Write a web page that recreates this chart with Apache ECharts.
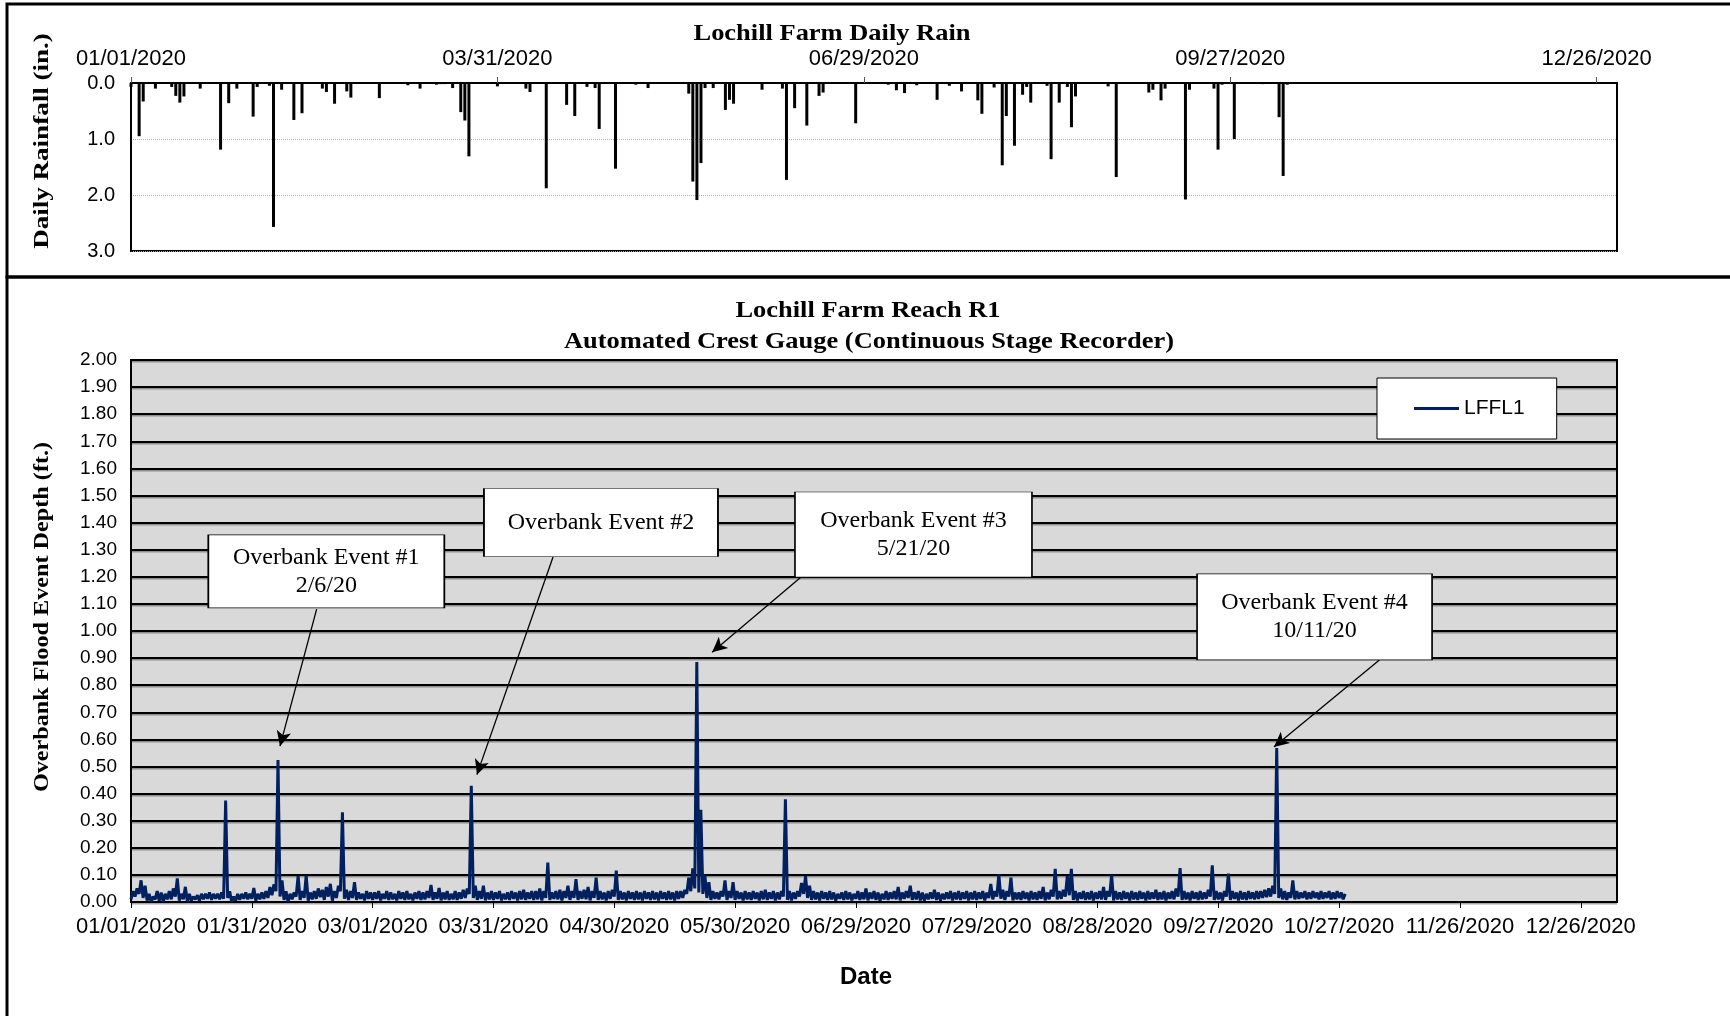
<!DOCTYPE html>
<html>
<head>
<meta charset="utf-8">
<title>Lochill Farm Reach R1</title>
<script src="https://cdn.jsdelivr.net/npm/echarts@6/dist/echarts.min.js"></script>
<style>
  html, body { margin: 0; padding: 0; background: #fff; }
  #chart { width: 1730px; height: 1016px; }
</style>
</head>
<body>
<div id="chart"></div>
<script>
// daily rain: day number counted from 01/01/2020, inches
var rainDay = [0, 2, 3, 6, 10, 11, 12, 13, 17, 22,
  24, 26, 30, 31, 34, 35, 37, 40, 42, 47,
  48, 50, 53, 54, 61, 68, 71, 75, 76, 77,
  79, 81, 82, 83, 90, 97, 98, 102, 107, 109,
  112, 114, 115, 119, 124, 127, 137, 138, 139, 140,
  141, 143, 146, 147, 148, 155, 160, 161, 163, 166,
  169, 170, 178, 186, 188, 190, 193, 198, 201, 204,
  208, 209, 212, 214, 215, 217, 219, 220, 221, 225,
  226, 228, 230, 231, 232, 240, 242, 250, 251, 253,
  254, 259, 260, 266, 267, 268, 271, 278, 282, 283,
  284];
var rainIn = [0.07, 0.95, 0.33, 0.10, 0.07, 0.23, 0.35, 0.24, 0.10, 1.19,
  0.36, 0.10, 0.60, 0.07, 0.05, 2.57, 0.12, 0.66, 0.54, 0.10,
  0.16, 0.37, 0.15, 0.26, 0.27, 0.04, 0.10, 0.03, 0.02, 0.02,
  0.09, 0.52, 0.67, 1.31, 0.06, 0.10, 0.16, 1.88, 0.39, 0.59,
  0.07, 0.09, 0.82, 1.53, 0.03, 0.09, 0.19, 1.76, 2.09, 1.43,
  0.09, 0.09, 0.48, 0.30, 0.37, 0.12, 0.10, 1.73, 0.45, 0.76,
  0.23, 0.17, 0.72, 0.03, 0.13, 0.18, 0.04, 0.30, 0.05, 0.15,
  0.31, 0.55, 0.08, 1.47, 0.59, 1.12, 0.21, 0.07, 0.35, 0.05,
  1.36, 0.35, 0.07, 0.79, 0.24, 0.06, 1.68, 0.17, 0.12, 0.31,
  0.10, 2.08, 0.12, 0.10, 1.19, 0.03, 1.00, 0.02, 0.61, 1.66,
  0.03];

// stage recorder LFFL1, one low and one high reading per day (ft), day 0 = 01/01/2020
var stageHigh = [
  0.04, 0.05, 0.08, 0.06, 0.03, 0.02, 0.04, 0.035, 0.03, 0.04,
  0.05, 0.087, 0.03, 0.056, 0.03, 0.02, 0.025, 0.03, 0.03, 0.035,
  0.03, 0.03, 0.035, 0.374, 0.04, 0.02, 0.03, 0.03, 0.035, 0.03,
  0.052, 0.03, 0.035, 0.04, 0.055, 0.065, 0.524, 0.08, 0.04, 0.03,
  0.035, 0.096, 0.04, 0.098, 0.035, 0.04, 0.05, 0.045, 0.055, 0.067,
  0.04, 0.06, 0.331, 0.045, 0.04, 0.073, 0.035, 0.03, 0.04, 0.035,
  0.035, 0.04, 0.03, 0.04, 0.035, 0.03, 0.04, 0.035, 0.04, 0.03,
  0.035, 0.04, 0.035, 0.04, 0.063, 0.035, 0.052, 0.035, 0.04, 0.03,
  0.04, 0.035, 0.045, 0.05, 0.429, 0.06, 0.04, 0.06, 0.035, 0.04,
  0.035, 0.04, 0.03, 0.035, 0.04, 0.035, 0.04, 0.045, 0.035, 0.04,
  0.04, 0.05, 0.04, 0.145, 0.035, 0.04, 0.045, 0.04, 0.06, 0.04,
  0.084, 0.04, 0.045, 0.055, 0.04, 0.09, 0.04, 0.035, 0.04, 0.045,
  0.116, 0.04, 0.035, 0.04, 0.035, 0.04, 0.035, 0.04, 0.035, 0.04,
  0.035, 0.04, 0.035, 0.04, 0.035, 0.04, 0.04, 0.045, 0.09, 0.124,
  0.886, 0.34, 0.10, 0.073, 0.04, 0.035, 0.04, 0.08, 0.04, 0.073,
  0.04, 0.035, 0.04, 0.035, 0.04, 0.035, 0.04, 0.045, 0.035, 0.04,
  0.035, 0.04, 0.379, 0.04, 0.035, 0.04, 0.07, 0.095, 0.06, 0.04,
  0.035, 0.04, 0.035, 0.04, 0.035, 0.03, 0.035, 0.04, 0.035, 0.03,
  0.04, 0.035, 0.05, 0.035, 0.04, 0.035, 0.03, 0.04, 0.035, 0.04,
  0.055, 0.035, 0.04, 0.06, 0.035, 0.04, 0.035, 0.03, 0.035, 0.045,
  0.035, 0.03, 0.035, 0.04, 0.035, 0.04, 0.035, 0.04, 0.035, 0.04,
  0.035, 0.04, 0.035, 0.067, 0.04, 0.102, 0.045, 0.04, 0.09, 0.035,
  0.035, 0.04, 0.035, 0.04, 0.035, 0.04, 0.055, 0.035, 0.045, 0.122,
  0.04, 0.045, 0.095, 0.122, 0.04, 0.035, 0.04, 0.035, 0.04, 0.035,
  0.04, 0.055, 0.04, 0.10, 0.04, 0.035, 0.04, 0.035, 0.04, 0.035,
  0.04, 0.035, 0.04, 0.035, 0.045, 0.035, 0.04, 0.035, 0.04, 0.05,
  0.125, 0.04, 0.035, 0.04, 0.035, 0.04, 0.035, 0.045, 0.135, 0.04,
  0.035, 0.04, 0.105, 0.04, 0.035, 0.04, 0.035, 0.04, 0.035, 0.04,
  0.04, 0.045, 0.05, 0.06, 0.568, 0.05, 0.04, 0.035, 0.08, 0.04,
  0.035, 0.04, 0.035, 0.04, 0.035, 0.04, 0.035, 0.04, 0.035, 0.04,
  0.035, 0.03];
var stageLow = [
  0.01, 0.02, 0.03, 0.015, 0.005, 0.0, 0.01, 0.005, 0.0, 0.01,
  0.01, 0.02, 0.005, 0.01, 0.0, 0.005, 0.01, 0.005, 0.01, 0.012,
  0.008, 0.012, 0.01, 0.012, 0.015, 0.0, 0.005, 0.008, 0.012, 0.01,
  0.012, 0.005, 0.01, 0.012, 0.015, 0.025, 0.04, 0.02, 0.008, 0.0,
  0.01, 0.02, 0.008, 0.015, 0.005, 0.01, 0.012, 0.018, 0.008, 0.02,
  0.005, 0.015, 0.04, 0.012, 0.008, 0.015, 0.008, 0.012, 0.006, 0.012,
  0.008, 0.012, 0.006, 0.012, 0.008, 0.01, 0.006, 0.012, 0.008, 0.01,
  0.006, 0.012, 0.008, 0.01, 0.015, 0.008, 0.012, 0.006, 0.01, 0.008,
  0.01, 0.008, 0.012, 0.015, 0.03, 0.015, 0.008, 0.012, 0.006, 0.01,
  0.008, 0.012, 0.006, 0.01, 0.008, 0.012, 0.006, 0.01, 0.008, 0.012,
  0.008, 0.01, 0.006, 0.015, 0.008, 0.012, 0.01, 0.006, 0.015, 0.008,
  0.015, 0.008, 0.012, 0.01, 0.006, 0.015, 0.008, 0.01, 0.006, 0.012,
  0.02, 0.008, 0.01, 0.006, 0.012, 0.008, 0.01, 0.006, 0.012, 0.008,
  0.01, 0.006, 0.012, 0.008, 0.01, 0.006, 0.012, 0.015, 0.03, 0.04,
  0.05, 0.035, 0.03, 0.015, 0.008, 0.012, 0.01, 0.02, 0.008, 0.015,
  0.008, 0.012, 0.006, 0.01, 0.008, 0.012, 0.006, 0.01, 0.008, 0.012,
  0.006, 0.01, 0.02, 0.008, 0.006, 0.012, 0.02, 0.03, 0.015, 0.008,
  0.01, 0.006, 0.012, 0.008, 0.01, 0.005, 0.012, 0.008, 0.01, 0.006,
  0.012, 0.008, 0.01, 0.006, 0.012, 0.008, 0.005, 0.01, 0.008, 0.012,
  0.01, 0.006, 0.012, 0.015, 0.008, 0.01, 0.006, 0.005, 0.01, 0.012,
  0.008, 0.005, 0.01, 0.012, 0.006, 0.01, 0.008, 0.012, 0.006, 0.01,
  0.008, 0.012, 0.006, 0.015, 0.01, 0.02, 0.012, 0.008, 0.02, 0.006,
  0.01, 0.008, 0.012, 0.006, 0.01, 0.008, 0.012, 0.006, 0.01, 0.02,
  0.01, 0.012, 0.02, 0.025, 0.008, 0.006, 0.012, 0.008, 0.01, 0.006,
  0.012, 0.01, 0.008, 0.02, 0.006, 0.01, 0.008, 0.012, 0.006, 0.01,
  0.008, 0.012, 0.006, 0.01, 0.012, 0.008, 0.01, 0.006, 0.012, 0.01,
  0.02, 0.008, 0.01, 0.006, 0.012, 0.008, 0.01, 0.012, 0.02, 0.008,
  0.01, 0.006, 0.02, 0.008, 0.012, 0.006, 0.01, 0.008, 0.012, 0.01,
  0.012, 0.015, 0.018, 0.02, 0.03, 0.015, 0.01, 0.008, 0.015, 0.01,
  0.012, 0.015, 0.01, 0.012, 0.015, 0.01, 0.012, 0.015, 0.01, 0.012,
  0.015, 0.01];

// callouts (data coordinates of the lower chart)
var eventNotes = [
  {text: 'Overbank Event #1\n2/6/20', box: [48.5, 1.22], size: [236, 73], from: [46.1, 1.081], to: [37.0, 0.575]},
  {text: 'Overbank Event #2', box: [116.7, 1.40], size: [234, 68], from: [104.8, 1.273], to: [85.9, 0.47]},
  {text: 'Overbank Event #3\n5/21/20', box: [194.3, 1.356], size: [237, 85], from: [166.4, 1.199], to: [144.3, 0.922]},
  {text: 'Overbank Event #4\n10/11/20', box: [293.9, 1.052], size: [235, 86], from: [310.0, 0.893], to: [283.8, 0.572]}
];

var SANS = '"Liberation Sans", Arial, sans-serif';
var SERIF = '"Liberation Serif", "Times New Roman", serif';

function pad(n) { return n < 10 ? '0' + n : '' + n; }
function dayLabel(step) {
  return function (v) {
    if (Math.round(v) % step !== 0) return '';
    var d = new Date(Date.UTC(2020, 0, 1) + Math.round(v) * 86400000);
    return pad(d.getUTCMonth() + 1) + '/' + pad(d.getUTCDate()) + '/' + d.getUTCFullYear();
  };
}

var rainData = rainDay.map(function (d, i) { return [d, rainIn[i]]; });
var stageData = [];
for (var i = 0; i < stageHigh.length; i++) {
  stageData.push([i, stageLow[i]]);
  stageData.push([i + 0.5, stageHigh[i]]);
}

var myChart = echarts.init(document.getElementById('chart'));

var option = {
  animation: false,
  backgroundColor: '#fff',
  grid: [
    {left: 131, right: 113, top: 83, bottom: 765, show: true, borderColor: '#000', borderWidth: 2, backgroundColor: '#fff'},
    {left: 131, right: 113, top: 360, bottom: 114, show: true, borderColor: '#000', borderWidth: 2, backgroundColor: '#d9d9d9'}
  ],
  legend: {
    data: ['LFFL1'],
    left: 1377, top: 378,
    backgroundColor: '#fff',
    borderColor: '#000',
    borderWidth: 1,
    padding: [20, 32, 20, 37],
    icon: 'rect',
    itemWidth: 45,
    itemHeight: 3,
    textStyle: {fontFamily: SANS, fontSize: 21, color: '#000'}
  },
  xAxis: [
    {
      gridIndex: 0, type: 'value', position: 'top',
      min: 0, max: 365, interval: 90,
      axisLine: {show: true, lineStyle: {color: '#000', width: 2}},
      axisTick: {show: true, inside: false, length: 6, lineStyle: {color: '#555', width: 1}},
      axisLabel: {formatter: dayLabel(90), margin: 13, fontFamily: SANS, fontSize: 22, color: '#000', showMaxLabel: false},
      splitLine: {show: false}
    },
    {
      gridIndex: 1, type: 'value',
      min: 0, max: 369, interval: 30,
      axisLine: {show: true, lineStyle: {color: '#000', width: 2}},
      axisTick: {show: true, inside: false, length: 6, lineStyle: {color: '#000', width: 1}},
      axisLabel: {formatter: dayLabel(30), margin: 14, fontFamily: SANS, fontSize: 22, color: '#000', showMaxLabel: false},
      splitLine: {show: false}
    }
  ],
  yAxis: [
    {
      gridIndex: 0, type: 'value', inverse: true,
      min: 0, max: 3, interval: 1,
      axisLine: {show: true, lineStyle: {color: '#000', width: 2}},
      axisTick: {show: false},
      axisLabel: {formatter: function (v) { return v.toFixed(1); }, margin: 16, fontFamily: SANS, fontSize: 20, color: '#000'},
      splitLine: {show: true, lineStyle: {color: '#b0b0b0', width: 1, type: 'dotted'}}
    },
    {
      gridIndex: 1, type: 'value',
      min: 0, max: 2, interval: 0.1,
      axisLine: {show: true, lineStyle: {color: '#000', width: 2}},
      axisTick: {show: false},
      axisLabel: {formatter: function (v) { return v.toFixed(2); }, margin: 14, fontFamily: SANS, fontSize: 19, color: '#000'},
      splitLine: {show: true, lineStyle: {color: '#000', width: 2, shadowColor: 'rgba(0,0,0,0.35)', shadowOffsetY: 1.5}}
    }
  ],
  series: [
    {
      name: 'Daily Rain',
      type: 'bar',
      xAxisIndex: 0, yAxisIndex: 0,
      barWidth: 3,
      itemStyle: {color: '#000'},
      data: rainData
    },
    {
      name: 'LFFL1',
      type: 'line',
      xAxisIndex: 1, yAxisIndex: 1,
      showSymbol: false,
      symbol: 'none',
      sampling: null,
      lineStyle: {color: '#002060', width: 3},
      itemStyle: {color: '#002060'},
      data: stageData,
      markLine: {
        silent: true,
        symbol: ['none', 'arrow'],
        symbolSize: [11, 15],
        label: {show: false},
        lineStyle: {color: '#000', width: 1.3, type: 'solid'},
        data: eventNotes.map(function (n) { return [{coord: n.from}, {coord: n.to}]; })
      },
      markPoint: {
        silent: true,
        symbol: 'rect',
        itemStyle: {color: '#fff', borderColor: '#000', borderWidth: 1},
        label: {show: true, position: 'inside', color: '#000', fontFamily: SERIF, fontSize: 24, lineHeight: 28},
        data: eventNotes.map(function (n) {
          return {coord: n.box, symbolSize: n.size, label: {formatter: n.text}};
        })
      }
    }
  ],
  graphic: [
    {type: 'rect', shape: {x: 7, y: 4, width: 1800, height: 273}, style: {fill: 'none', stroke: '#000', lineWidth: 3}},
    {type: 'rect', shape: {x: 7, y: 277, width: 1800, height: 800}, style: {fill: 'none', stroke: '#000', lineWidth: 3}},
    {type: 'text', x: 832, y: 34, scaleX: 1.15, style: {text: 'Lochill Farm Daily Rain', font: 'bold 23px ' + SERIF, fill: '#000', textAlign: 'center', textVerticalAlign: 'middle'}},
    {type: 'text', x: 868, y: 311, scaleX: 1.15, style: {text: 'Lochill Farm Reach R1', font: 'bold 23px ' + SERIF, fill: '#000', textAlign: 'center', textVerticalAlign: 'middle'}},
    {type: 'text', x: 869, y: 342, scaleX: 1.15, style: {text: 'Automated Crest Gauge (Continuous Stage Recorder)', font: 'bold 23px ' + SERIF, fill: '#000', textAlign: 'center', textVerticalAlign: 'middle'}},
    {type: 'text', x: 42, y: 141, rotation: Math.PI / 2, scaleX: 1.23, style: {text: 'Daily Rainfall (in.)', font: 'bold 22px ' + SERIF, fill: '#000', textAlign: 'center', textVerticalAlign: 'middle'}},
    {type: 'text', x: 42, y: 617, rotation: Math.PI / 2, scaleX: 1.1, style: {text: 'Overbank Flood Event Depth (ft.)', font: 'bold 22px ' + SERIF, fill: '#000', textAlign: 'center', textVerticalAlign: 'middle'}},
    {type: 'text', x: 866, y: 977, style: {text: 'Date', font: 'bold 24px ' + SANS, fill: '#000', textAlign: 'center', textVerticalAlign: 'middle'}}
  ]
};

myChart.setOption(option);
window.addEventListener('resize', function () { myChart.resize(); });
</script>
</body>
</html>
